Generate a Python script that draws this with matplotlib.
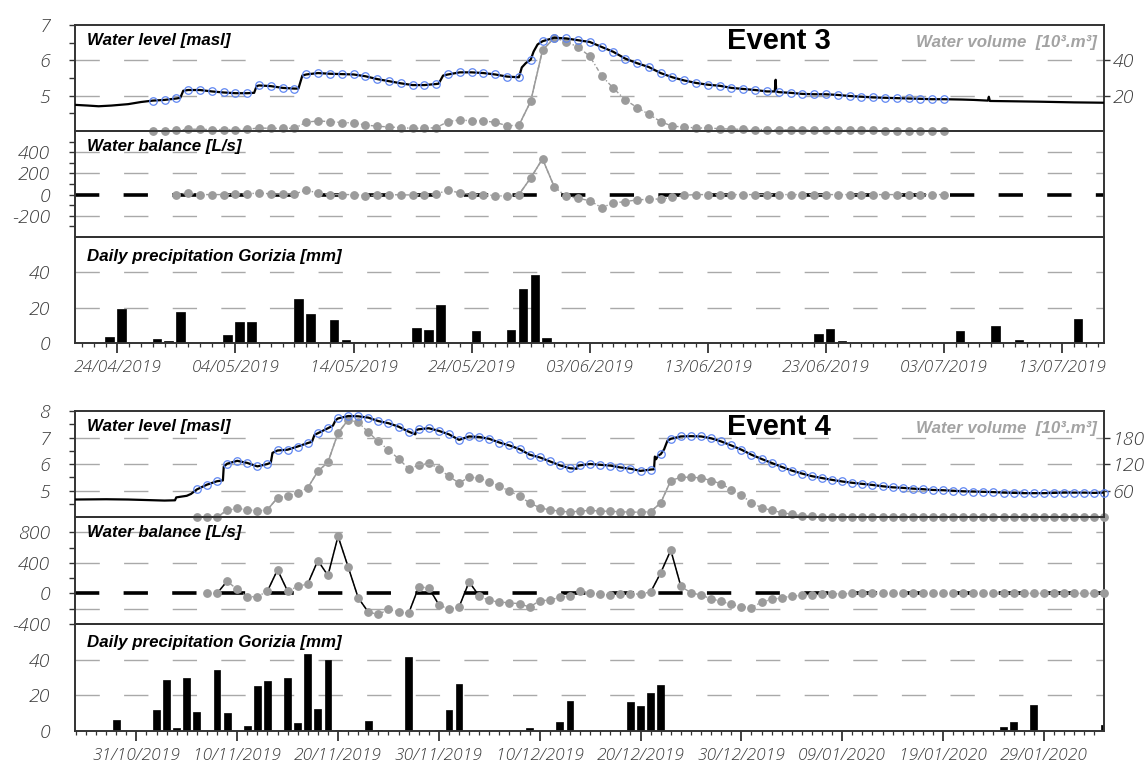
import numpy as np
import pandas as pd
import matplotlib
matplotlib.use("Agg")
import matplotlib.pyplot as plt
import matplotlib.dates as mdates
from matplotlib.ticker import FixedLocator

# ---------------- Event 3 (spring 2019) ----------------
e3_xlim = ["2019-04-20 10:00", "2019-07-16 13:00"]
e3_date_ticks = ["24/04/2019", "04/05/2019", "14/05/2019", "24/05/2019", "03/06/2019",
                 "13/06/2019", "23/06/2019", "03/07/2019", "13/07/2019"]

# daily water level [masl] and water volume [10^3 m3], first day 27/04/2019
e3_first_day = "2019-04-27"
e3_level = [4.86, 4.88, 4.92, 5.16, 5.16, 5.12, 5.09, 5.07, 5.07, 5.29,
            5.27, 5.22, 5.20, 5.60, 5.64, 5.62, 5.61, 5.60, 5.55, 5.47,
            5.41, 5.35, 5.30, 5.30, 5.33, 5.60, 5.66, 5.66, 5.64, 5.60,
            5.54, 5.52, 6.02, 6.54, 6.64, 6.62, 6.57, 6.52, 6.38, 6.24,
            6.05, 5.92, 5.81, 5.64, 5.52, 5.43, 5.36, 5.31, 5.28, 5.22,
            5.19, 5.16, 5.12, 5.10, 5.08, 5.05, 5.04, 5.04, 5.02, 4.99,
            4.97, 4.95, 4.94, 4.93, 4.92, 4.91, 4.90, 4.90]
e3_volume = [0, 0, 0.4, 1.0, 1.0, 0.8, 0.8, 0.8, 1.0, 1.7,
             1.5, 1.5, 1.5, 5.0, 5.7, 5.3, 4.8, 4.6, 3.4, 2.7,
             2.3, 1.9, 1.5, 1.5, 1.9, 5.3, 6.3, 5.7, 5.7, 4.9,
             3.0, 3.2, 16.8, 45.7, 52.8, 50.5, 47.6, 42.3, 31.4, 24.2,
             17.7, 13.3, 9.5, 5.3, 2.7, 2.3, 1.7, 1.7, 1.3, 1.1,
             0.9, 0.8, 0.8, 0.6, 0.6, 0.5, 0.5, 0.4, 0.4, 0.3,
             0.3, 0.3, 0.2, 0.2, 0.1, 0.1, 0.0, 0.0]
# continuous logger record between the daily readings (steps, spikes, tails)
e3_logger_t = ["2019-04-20 10:00", "2019-04-21 12:00", "2019-04-22 10:00", "2019-04-23 12:00",
               "2019-04-24 22:00", "2019-04-26 00:00", "2019-04-29 08:00", "2019-04-29 14:00",
               "2019-05-05 14:00", "2019-05-05 19:00", "2019-05-09 08:00", "2019-05-09 16:00",
               "2019-05-21 05:00", "2019-05-21 14:00", "2019-05-28 06:00", "2019-05-28 14:00",
               "2019-05-29 06:00", "2019-05-29 14:00", "2019-06-18 16:00", "2019-06-18 17:45",
               "2019-06-18 19:00", "2019-07-04 12:00", "2019-07-05 12:00", "2019-07-06 17:00",
               "2019-07-06 19:00", "2019-07-06 21:00", "2019-07-09 00:00", "2019-07-11 00:00",
               "2019-07-14 00:00", "2019-07-16 14:00"]
e3_logger_v = [4.74, 4.72, 4.70, 4.72, 4.76, 4.82, 4.94, 5.14,
               5.08, 5.27, 5.20, 5.57, 5.34, 5.57, 5.80, 5.92,
               6.25, 6.45, 5.12, 5.45, 5.12, 4.89, 4.88, 4.86,
               4.97, 4.85, 4.84, 4.83, 4.81, 4.80]

# water balance [L/s], first day 29/04/2019
e3_bal_first_day = "2019-04-29"
e3_balance = [0, 16, 0, 0, 0, 6, 6, 16, 6, 6,
              6, 41, 16, 0, 0, 0, -9, -6, 0, -3,
              -3, 0, 6, 41, 16, 0, 0, -9, -16, 0,
              157, 337, 72, -16, -35, -57, -123, -79, -66, -50,
              -44, -41, -25, -6, 0, 0, 0, 0, 0, 0,
              0, 0, 0, 0, 0, 0, 0, 0, 0, 0,
              0, 0, 0, 0, 0, 0]

e3_rain_dates = ["23/04/2019", "24/04/2019", "27/04/2019", "28/04/2019", "29/04/2019",
                 "03/05/2019", "04/05/2019", "05/05/2019", "09/05/2019", "10/05/2019",
                 "12/05/2019", "13/05/2019", "14/05/2019", "19/05/2019", "20/05/2019",
                 "21/05/2019", "24/05/2019", "27/05/2019", "28/05/2019", "29/05/2019",
                 "30/05/2019", "22/06/2019", "23/06/2019", "24/06/2019", "04/07/2019",
                 "07/07/2019", "09/07/2019", "10/07/2019", "14/07/2019"]
e3_rain = [3.2, 19.0, 2.1, 0.9, 17.7, 4.5, 11.7, 11.7, 24.9, 16.4,
           13.0, 1.5, 0.4, 8.5, 7.4, 21.5, 6.6, 7.2, 30.8, 38.7,
           3.0, 5.3, 8.1, 1.1, 7.0, 9.6, 1.5, 0.3, 13.4]

e3_volume_solid = [("2019-05-28", "2019-05-31")]
e3_balance_solid = [("2019-05-28", "2019-05-31")]

# ---------------- Event 4 (autumn - winter 2019/20) ----------------
e4_xlim = ["2019-10-24 22:00", "2020-02-03 23:00"]
e4_date_ticks = ["31/10/2019", "10/11/2019", "20/11/2019", "30/11/2019", "10/12/2019",
                 "20/12/2019", "30/12/2019", "09/01/2020", "19/01/2020", "29/01/2020"]

e4_first_day = "2019-11-06"
e4_level = [5.04, 5.22, 5.35, 6.01, 6.12, 6.04, 5.91, 6.00, 6.51, 6.54,
            6.66, 6.79, 7.16, 7.35, 7.72, 7.81, 7.80, 7.75, 7.62, 7.54,
            7.41, 7.22, 7.31, 7.35, 7.25, 7.12, 6.91, 7.04, 7.02, 6.95,
            6.81, 6.70, 6.56, 6.35, 6.25, 6.10, 5.95, 5.84, 5.95, 6.00,
            5.97, 5.94, 5.87, 5.82, 5.74, 5.79, 6.37, 6.95, 7.04, 7.05,
            7.04, 6.97, 6.85, 6.70, 6.54, 6.35, 6.19, 6.04, 5.89, 5.75,
            5.64, 5.54, 5.47, 5.40, 5.34, 5.29, 5.25, 5.21, 5.16, 5.12,
            5.10, 5.07, 5.05, 5.02, 5.01, 4.99, 4.97, 4.96, 4.95, 4.94,
            4.92, 4.91, 4.90, 4.90, 4.90, 4.91, 4.92, 4.92, 4.92, 4.91,
            4.92]
e4_volume = [0, 0, 0, 15, 19.5, 16.5, 13.5, 16.5, 43.5, 47,
             55, 66, 103.5, 124, 190, 220, 214.5, 192, 171, 152,
             132, 109.5, 117, 122, 109.5, 92, 77, 90, 88.5, 79.5,
             70, 58.5, 47, 32, 21, 16, 13.5, 11, 13.5, 15,
             13.5, 12.8, 12, 11, 11, 12, 32, 82.5, 90, 90,
             88.5, 82.5, 75, 62, 49.5, 32, 21, 15, 10, 6,
             3, 1.5, 0, 0, 0, 0, 0, 0, 0, 0,
             0, 0, 0, 0, 0, 0, 0, 0, 0, 0,
             0, 0, 0, 0, 0, 0, 0, 0, 0, 0,
             0]
e4_logger_t = ["2019-10-24 22:00", "2019-10-28 00:00", "2019-10-30 04:00", "2019-11-01 00:00",
               "2019-11-02 19:00", "2019-11-03 20:00", "2019-11-03 23:00", "2019-11-05 00:00",
               "2019-11-05 10:00", "2019-11-08 14:00", "2019-11-08 16:00", "2019-11-13 08:00",
               "2019-11-13 12:00", "2019-11-17 10:00", "2019-11-17 16:00", "2019-11-19 12:00",
               "2019-11-19 18:00", "2019-11-27 16:00", "2019-11-27 18:00", "2019-12-13 16:00",
               "2019-12-13 18:00", "2019-12-21 08:00", "2019-12-21 10:00", "2019-12-21 13:00",
               "2019-12-21 18:00", "2019-12-22 08:00", "2019-12-22 16:00"]
e4_logger_v = [4.66, 4.67, 4.66, 4.64, 4.62, 4.63, 4.74, 4.80,
               4.87, 5.38, 5.90, 6.05, 6.42, 6.84, 7.10, 7.45,
               7.65, 7.12, 7.28, 5.82, 5.93, 5.80, 6.28, 6.18,
               6.32, 6.55, 6.88]

e4_bal_first_day = "2019-11-07"
e4_balance = [0, 0, 161, 52, -43, -43, 30, 309, 30, 91,
              126, 430, 235, 748, 348, -57, -244, -274, -209, -239,
              -261, 83, 74, -148, -209, -178, 152, -35, -91, -113,
              -122, -135, -178, -96, -87, -50, -37, 30, 9, -13,
              -22, -13, -13, -4, 17, 270, 566, 91, 9, -22,
              -70, -104, -144, -174, -187, -113, -78, -57, -35, -26,
              -22, -13, -4, -4, 0, 0, 0, 0, 0, 0,
              0, 0, 0, 0, 0, 0, 0, 0, 0, 0,
              0, 0, 0, 0, 0, 0, 0, 0, 0, 0]

e4_rain_dates = ["29/10/2019", "02/11/2019", "03/11/2019", "04/11/2019", "05/11/2019",
                 "06/11/2019", "08/11/2019", "09/11/2019", "11/11/2019", "12/11/2019",
                 "13/11/2019", "15/11/2019", "16/11/2019", "17/11/2019", "18/11/2019",
                 "19/11/2019", "20/11/2019", "22/11/2019", "23/11/2019", "24/11/2019",
                 "27/11/2019", "30/11/2019", "01/12/2019", "02/12/2019", "09/12/2019",
                 "12/12/2019", "13/12/2019", "19/12/2019", "20/12/2019", "21/12/2019",
                 "22/12/2019", "18/01/2020", "25/01/2020", "26/01/2020", "28/01/2020",
                 "04/02/2020"]
e4_rain = [6.4, 11.6, 28.5, 1.5, 29.6, 10.5, 34.0, 10.3, 3.0, 25.0,
           28.0, 30.0, 4.3, 43.3, 12.4, 39.6, 0.8, 0.8, 5.4, 0.5,
           41.3, 0.8, 12.0, 26.5, 1.5, 5.0, 17.0, 16.2, 14.0, 21.5,
           25.8, 0.2, 2.2, 5.2, 14.4, 3.5]

e4_volume_solid = [("2019-11-08", "2019-11-09"), ("2019-11-13", "2019-11-14"),
                   ("2019-11-17", "2019-11-21"), ("2019-12-21", "2019-12-23")]
e4_balance_solid = [("2019-11-08", "2019-11-09"), ("2019-11-13", "2019-11-15"),
                    ("2019-11-17", "2019-11-23"), ("2019-11-27", "2019-11-28"),
                    ("2019-11-29", "2019-11-30"), ("2019-12-02", "2019-12-04"),
                    ("2019-12-21", "2019-12-24")]

# ---------------- style ----------------
W, H = 1148, 762
LEFT, RIGHT = 75, 1104
FRAME = "#333333"
GRAY = "#9b9b9b"
GRID = "#a9a9a9"
BLUE = "#5f86f2"
DASH = (0, (17.5, 17.5))
DASHDOT = (0, (3, 1.6, 1, 1.6))
plt.rcParams["lines.scale_dashes"] = False
TICK_FONT = dict(fontfamily=["Open Sans", "DejaVu Sans"], fontstyle="italic",
                 fontweight="light", fontsize=14, color="#3a3a3a")
DATE_FONT = dict(TICK_FONT, fontsize=12.5)
TITLE_FONT = dict(family=["Liberation Sans", "DejaVu Sans"], style="italic",
                  weight="bold", fontsize=12.2)

fig = plt.figure(figsize=(W / 100, H / 100), dpi=100)


def tnum(values, fmt=None):
    return mdates.date2num(pd.to_datetime(values, format=fmt))


def daily(first, n):
    return mdates.date2num(pd.date_range(first, periods=n, freq="D"))


def add_panel(top, bottom, z):
    ax = fig.add_axes([LEFT / W, 1 - bottom / H, (RIGHT - LEFT) / W, (bottom - top) / H])
    ax.set_zorder(z)
    ax.patch.set_visible(False)
    for s in ax.spines.values():
        s.set_color(FRAME)
        s.set_linewidth(1.4)
    ax.tick_params(axis="x", which="both", bottom=False, labelbottom=False)
    ax.tick_params(axis="y", which="both", direction="out", length=4, width=1,
                   color=FRAME, pad=14)
    return ax


def y_axis(ax, lim, ticks, labels, minor):
    ax.set_ylim(*lim)
    ax.set_yticks(ticks)
    ax.set_yticklabels(labels, **TICK_FONT)
    ax.yaxis.set_minor_locator(FixedLocator(minor))


def grid(ax, values):
    for v in values:
        ax.axhline(v, color=GRID, lw=1, ls=DASH, zorder=0.5)


def gray_series(ax, x, y, solid, solid_color):
    ax.plot(x, y, ls=DASHDOT, color=GRAY, lw=1.0, zorder=2)
    for a, b in solid:
        m = (x >= tnum(a)) & (x <= tnum(b))
        ax.plot(x[m], y[m], "-", color=solid_color, lw=1.1, zorder=2.5)
    ax.plot(x, y, "o", color=GRAY, ms=5.3, zorder=3, clip_on=False)


def title(x, y, s, **kw):
    fig.text(x / W, 1 - y / H, s, va="center", **kw)


def draw_event(rows, name, xlim, date_ticks, first_day, level, volume, logger_t, logger_v,
               bal_first_day, balance, rain_dates, rain, vol_solid, bal_solid, bal_color,
               lvl, vol, bal, rain_shift, rain_width):
    xl = tnum(xlim)

    # --- water level / volume ---
    vax = add_panel(rows[0], rows[1], 3)
    ax = add_panel(rows[0], rows[1], 4)
    for s in vax.spines.values():
        s.set_visible(False)
    y_axis(ax, lvl["lim"], lvl["ticks"], [str(t) for t in lvl["ticks"]], lvl["minor"])
    grid(ax, lvl["grid"])
    vax.yaxis.tick_right()
    vax.set_ylim(*vol["lim"])
    vax.set_yticks(vol["ticks"])
    vax.set_yticklabels([str(t) for t in vol["ticks"]], **TICK_FONT)
    vax.tick_params(axis="y", which="both", direction="out", length=4, width=1,
                    color=FRAME, pad=2)
    vax.yaxis.set_minor_locator(FixedLocator([]))

    days = daily(first_day, len(level))
    gray_series(vax, days, np.array(volume), vol_solid, GRAY)
    t = np.concatenate([days, tnum(logger_t)])
    v = np.concatenate([level, logger_v])
    order = np.argsort(t)
    ax.plot(t[order], v[order], color="black", lw=1.6, zorder=3)
    ax.plot(days, level, "o", mfc="none", mec=BLUE, ms=5.4, mew=0.9, zorder=4, clip_on=False)
    for a in (ax, vax):
        a.set_xlim(*xl)

    # --- water balance ---
    bx = add_panel(rows[1], rows[2], 2)
    y_axis(bx, bal["lim"], bal["ticks"], bal["labels"], bal["minor"])
    grid(bx, bal["grid"])
    bx.axhline(0, color="black", lw=2.6, ls=DASH, zorder=1)
    bdays = daily(bal_first_day, len(balance))
    gray_series(bx, bdays, np.array(balance), bal_solid, bal_color)
    bx.set_xlim(*xl)

    # --- precipitation ---
    px = add_panel(rows[2], rows[3], 1)
    y_axis(px, (0, 60), [0, 20, 40], ["0", "20", "40"], [])
    px.tick_params(axis="y", which="both", length=0, pad=18)
    grid(px, [20, 40])
    px.bar(tnum(rain_dates, "%d/%m/%Y") + rain_shift, rain, width=rain_width,
           color="black", edgecolor="black", lw=0.5, zorder=2)
    px.set_xlim(*xl)
    px.xaxis.set_major_locator(FixedLocator(tnum(date_ticks, "%d/%m/%Y")))
    px.xaxis.set_major_formatter(mdates.DateFormatter("%d/%m/%Y"))
    px.xaxis.set_minor_locator(mdates.DayLocator())
    px.tick_params(axis="x", which="major", bottom=True, labelbottom=True, direction="out",
                   length=7, width=1.3, color=FRAME, pad=5)
    px.tick_params(axis="x", which="minor", bottom=True, direction="out", length=3,
                   width=0.9, color=FRAME)
    for lab in px.get_xticklabels():
        lab.set(**DATE_FONT)

    # --- texts ---
    top = rows[0]
    title(87, top + 15, "Water level [masl]", **TITLE_FONT)
    title(779, top + 16, name, ha="center", family=["Liberation Sans", "DejaVu Sans"],
          weight="bold", fontsize=21)
    title(1097, top + 17, "Water volume  [10³.m³]", ha="right", color="#a3a3a3",
          family=["Liberation Sans", "DejaVu Sans"], style="italic", weight="bold",
          fontsize=12.2)
    title(87, rows[1] + 16, "Water balance [L/s]", **TITLE_FONT)
    title(87, rows[2] + 19, "Daily precipitation Gorizia [mm]", **TITLE_FONT)


draw_event([25, 131, 237, 343], "Event 3", e3_xlim, e3_date_ticks, e3_first_day,
           e3_level, e3_volume, e3_logger_t, e3_logger_v, e3_bal_first_day, e3_balance,
           e3_rain_dates, e3_rain, e3_volume_solid, e3_balance_solid, GRAY,
           lvl=dict(lim=(4, 7), ticks=[5, 6, 7], minor=[4.5, 5.5, 6.5], grid=[5, 6]),
           vol=dict(lim=(0, 60), ticks=[20, 40]),
           bal=dict(lim=(-400, 600), ticks=[-200, 0, 200, 400],
                    labels=["-200", "0", "200", "400"],
                    minor=[-300, -100, 100, 300, 500], grid=[-200, 200, 400]),
           rain_shift=0.35, rain_width=0.72)

draw_event([411, 517, 624, 731], "Event 4", e4_xlim, e4_date_ticks, e4_first_day,
           e4_level, e4_volume, e4_logger_t, e4_logger_v, e4_bal_first_day, e4_balance,
           e4_rain_dates, e4_rain, e4_volume_solid, e4_balance_solid, "black",
           lvl=dict(lim=(4, 8), ticks=[5, 6, 7, 8], minor=[4.5, 5.5, 6.5, 7.5],
                    grid=[5, 6, 7]),
           vol=dict(lim=(0, 240), ticks=[60, 120, 180]),
           bal=dict(lim=(-400, 1000), ticks=[-400, 0, 400, 800],
                    labels=["-400", "0", "400", "800"],
                    minor=[-200, 200, 600], grid=[-200, 400, 800]),
           rain_shift=0.0, rain_width=0.68)

fig.savefig("out.png", dpi=100, facecolor="white")
